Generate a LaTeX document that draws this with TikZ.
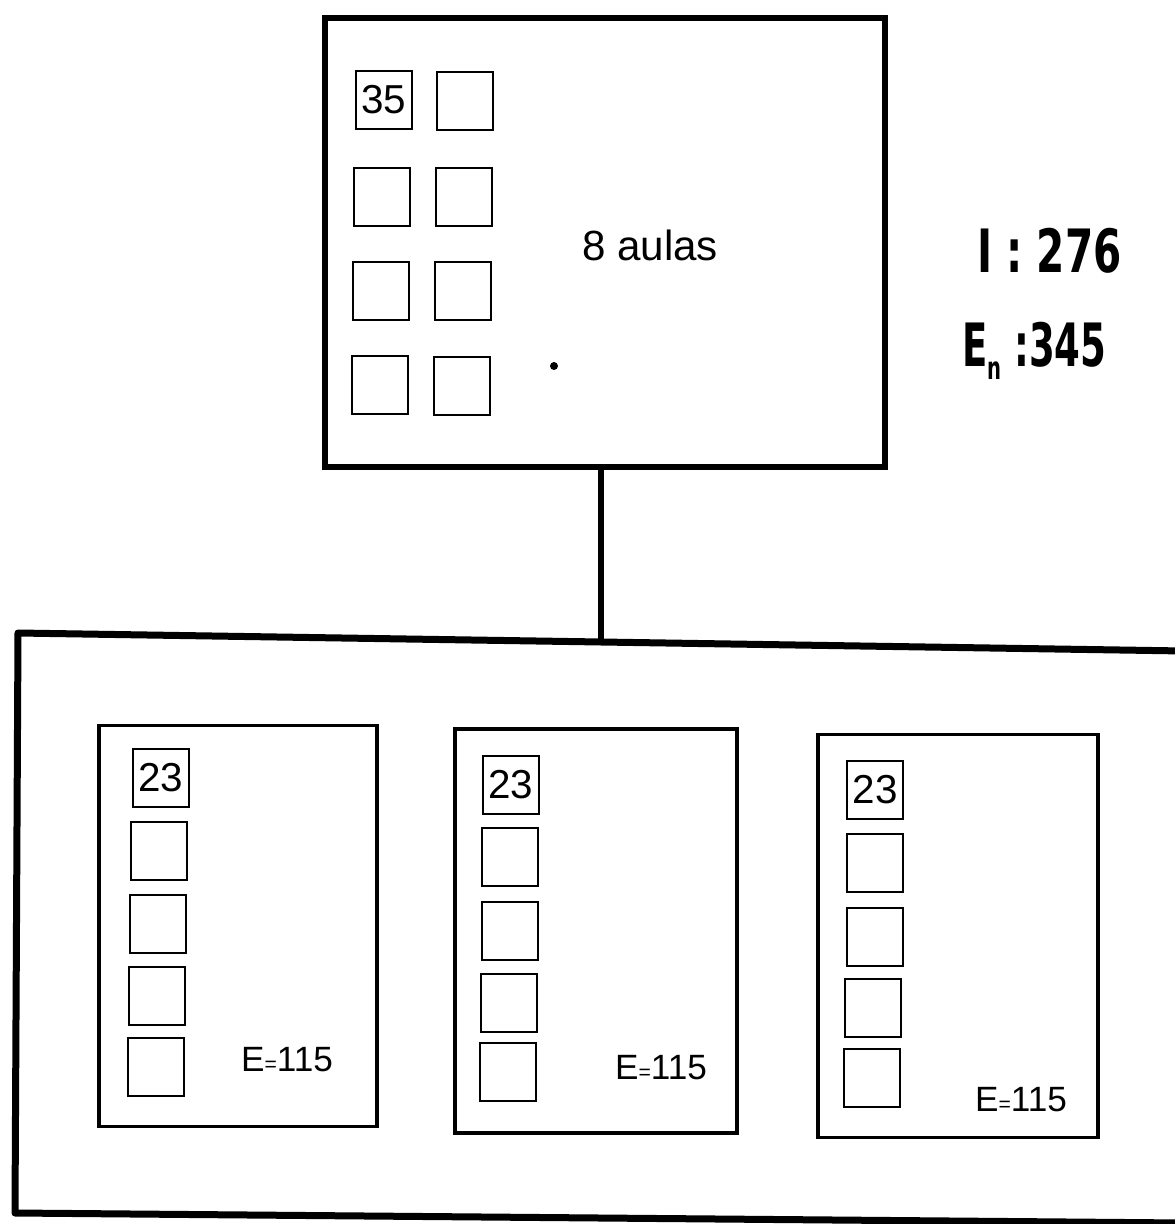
\documentclass[tikz,border=0pt]{standalone}
\usepackage{fontspec}
\setmainfont{Liberation Sans}
\newfontfamily\boldfam{DejaVu Sans}
\begin{document}
\begin{tikzpicture}[x=0.02cm,y=-0.02cm,
  room/.style={draw,line width=0.05cm,minimum width=1.12cm,minimum height=1.16cm,inner sep=0pt,font=\fontsize{23}{25}\selectfont},
  thick line/.style={line width=0.13cm},
  school/.style={draw,line width=0.065cm,inner sep=0pt},
  hand/.style={font=\fontsize{20}{22}\selectfont},
  bigtext/.style={font=\boldfam\bfseries\fontsize{34}{36}\selectfont,inner sep=0pt,anchor=base west}]
\useasboundingbox (0,0) rectangle (1175,1224);
% top box
\node[draw,thick line,inner sep=0pt,minimum width=11.2cm,minimum height=8.98cm] (top) at (605,242.5) {};
\node[room] (t1) at (384,100) {35};
\node[room] (t2) at (465,101) {};
\node[room] (t3) at (382,197) {};
\node[room] (t4) at (464,197) {};
\node[room] (t5) at (381,291) {};
\node[room] (t6) at (463,291) {};
\node[room] (t7) at (380,385) {};
\node[room] (t8) at (462,386) {};
\node[font=\fontsize{24}{26}\selectfont] (aulas) at (650,245) {8 aulas};
\fill (554,366) circle (0.08cm);
\node[bigtext,xscale=0.68] (I) at (977,272) {I : 276};
\node[bigtext,xscale=0.62] (En) at (962,366) {E\raisebox{-0.4ex}{\fontsize{18}{18}\selectfont n} :345};
% bottom big box
\coordinate (bl) at (15,1213);
\coordinate (tl) at (18,633);
\coordinate (tr) at (1185,651);
\coordinate (br) at (1185,1223);
\coordinate (join) at (601,642);
\begin{scope}
\clip (0,0) rectangle (1175,1224);
\draw[line width=0.14cm,line join=round] (tr) -- (tl) -- (bl) -- (br);
\end{scope}
\draw[thick line] (top.south -| join) -- (join);
% school 1
\node[school,minimum width=5.56cm,minimum height=8.02cm] (s1) at (238,926) {};
\node[room] (a1) at (161,778) {23};
\node[room] (a2) at (159,851) {};
\node[room] (a3) at (158,924) {};
\node[room] (a4) at (157,996) {};
\node[room] (a5) at (156,1067) {};
\node[hand] (e1) at (287,1060) {E{\fontsize{12}{12}\selectfont =}115};
% school 2
\node[school,minimum width=5.64cm,minimum height=8.08cm] (s2) at (596,931) {};
\node[room] (b1) at (511,785) {23};
\node[room] (b2) at (510,857) {};
\node[room] (b3) at (510,931) {};
\node[room] (b4) at (509,1003) {};
\node[room] (b5) at (508,1072) {};
\node[hand] (e2) at (661,1068) {E{\fontsize{12}{12}\selectfont =}115};
% school 3
\node[school,minimum width=5.6cm,minimum height=8.06cm] (s3) at (958,936) {};
\node[room] (c1) at (875,790) {23};
\node[room] (c2) at (875,863) {};
\node[room] (c3) at (875,937) {};
\node[room] (c4) at (873,1008) {};
\node[room] (c5) at (872,1078) {};
\node[hand] (e3) at (1021,1100) {E{\fontsize{12}{12}\selectfont =}115};
\end{tikzpicture}
\end{document}
